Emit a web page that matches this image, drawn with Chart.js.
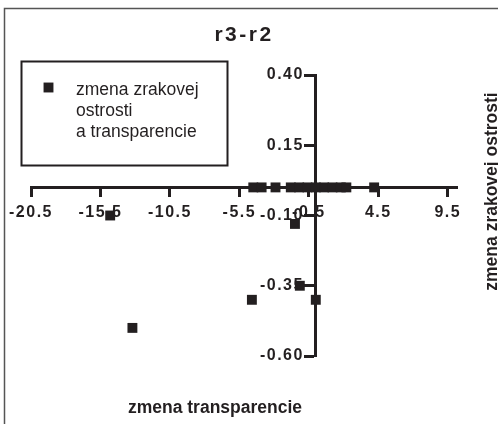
<!DOCTYPE html>
<html>
<head>
<meta charset="utf-8">
<script src="https://cdn.jsdelivr.net/npm/chart.js@4.4.1/dist/chart.umd.min.js"></script>
<style>
  html, body { margin: 0; padding: 0; background: #fff; }
</style>
</head>
<body>
<canvas id="myChart" width="498" height="424"></canvas>
<script>
// data
const transparencyChange = [-14.8, -13.2, -4.6, -1.5, -1.15, 0, -4.5, -3.9, -2.9, -1.8, -1.2, -0.6, 0, 0.6, 1.2, 1.8, 2.2, 4.2];
const acuityChange = [-0.10, -0.50, -0.40, -0.13, -0.35, -0.40, 0, 0, 0, 0, 0, 0, 0, 0, 0, 0, 0, 0];
const xTicks = [-20.5, -15.5, -10.5, -5.5, -0.5, 4.5, 9.5];
const yTicks = [-0.60, -0.35, -0.10, 0.15, 0.40];
const chartTitle = 'r3-r2';
const seriesLabel = ['zmena zrakovej', 'ostrosti', 'a transparencie'];
const xTitle = 'zmena transparencie';
const yTitle = 'zmena zrakovej ostrosti';

const ink = '#231f20';
const font = '"Liberation Sans", Arial, sans-serif';

const points = transparencyChange.map((x, i) => ({ x: x, y: acuityChange[i] }));

// frame, title, legend box and axis titles
const decor = {
  id: 'decor',
  beforeUpdate(chart) { chart.ctx.letterSpacing = '1.5px'; },
  beforeDraw(chart) { chart.ctx.letterSpacing = '1.5px'; },
  afterDraw(chart) {
    const ctx = chart.ctx;
    ctx.save();
    ctx.strokeStyle = '#555';
    ctx.lineWidth = 1.5;
    ctx.beginPath();
    ctx.moveTo(4.5, 424);
    ctx.lineTo(4.5, 8.5);
    ctx.lineTo(498, 8.5);
    ctx.stroke();

    ctx.fillStyle = ink;
    ctx.textBaseline = 'alphabetic';
    ctx.textAlign = 'center';
    ctx.letterSpacing = '2.5px';
    ctx.font = 'bold 21px ' + font;
    ctx.fillText(chartTitle, 244, 41);

    ctx.letterSpacing = '0px';
    ctx.lineWidth = 2;
    ctx.strokeStyle = ink;
    ctx.strokeRect(21.5, 61.5, 206, 104);
    Chart.helpers.drawPoint(ctx, { pointStyle: 'rect', radius: 7, borderWidth: 0 }, 48.5, 87.5);

    ctx.textAlign = 'left';
    ctx.font = '17.5px ' + font;
    seriesLabel.forEach((line, i) => ctx.fillText(line, 76, 94.5 + i * 21));

    ctx.textAlign = 'center';
    ctx.font = 'bold 17.5px ' + font;
    ctx.fillText(xTitle, 215, 413);

    ctx.translate(497, 191.5);
    ctx.rotate(-Math.PI / 2);
    ctx.fillText(yTitle, 0, 0);
    ctx.restore();
  }
};

const ctx = document.getElementById('myChart').getContext('2d');
new Chart(ctx, {
  type: 'scatter',
  data: {
    datasets: [{
      label: seriesLabel.join(' '),
      data: points,
      pointStyle: 'rect',
      pointRadius: 7,
      pointHoverRadius: 7,
      borderWidth: 0,
      backgroundColor: ink,
      clip: false
    }]
  },
  options: {
    responsive: false,
    animation: false,
    layout: { padding: { left: 31, right: 40.5, top: 75, bottom: 68 } },
    plugins: {
      legend: { display: false },
      title: { display: false },
      tooltip: { enabled: false }
    },
    scales: {
      x: {
        type: 'linear',
        position: { y: 0 },
        min: -20.5,
        max: 10.2,
        afterBuildTicks: (scale) => { scale.ticks = xTicks.map(v => ({ value: v })); },
        grid: { display: true, drawOnChartArea: false, drawTicks: true, tickLength: 8, tickWidth: 3, color: ink },
        border: { display: true, width: 3, color: ink },
        ticks: {
          color: ink,
          font: { family: font, size: 16, weight: 'bold' },
          padding: 8,
          maxRotation: 0,
          autoSkip: false,
          callback: (v) => v.toFixed(1)
        }
      },
      y: {
        type: 'linear',
        position: { x: 0 },
        min: -0.60,
        max: 0.40,
        afterBuildTicks: (scale) => { scale.ticks = yTicks.map(v => ({ value: v })); },
        grid: { display: true, drawOnChartArea: false, drawTicks: true, tickLength: 10, tickWidth: 3, color: ink },
        border: { display: true, width: 3, color: ink },
        ticks: {
          color: ink,
          font: { family: font, size: 16, weight: 'bold' },
          autoSkip: false,
          // labels sit on the axis line here, trailing spaces push them left of the tick marks
          callback: (v) => v.toFixed(2) + '  '
        }
      }
    }
  },
  plugins: [decor]
});
</script>
</body>
</html>
